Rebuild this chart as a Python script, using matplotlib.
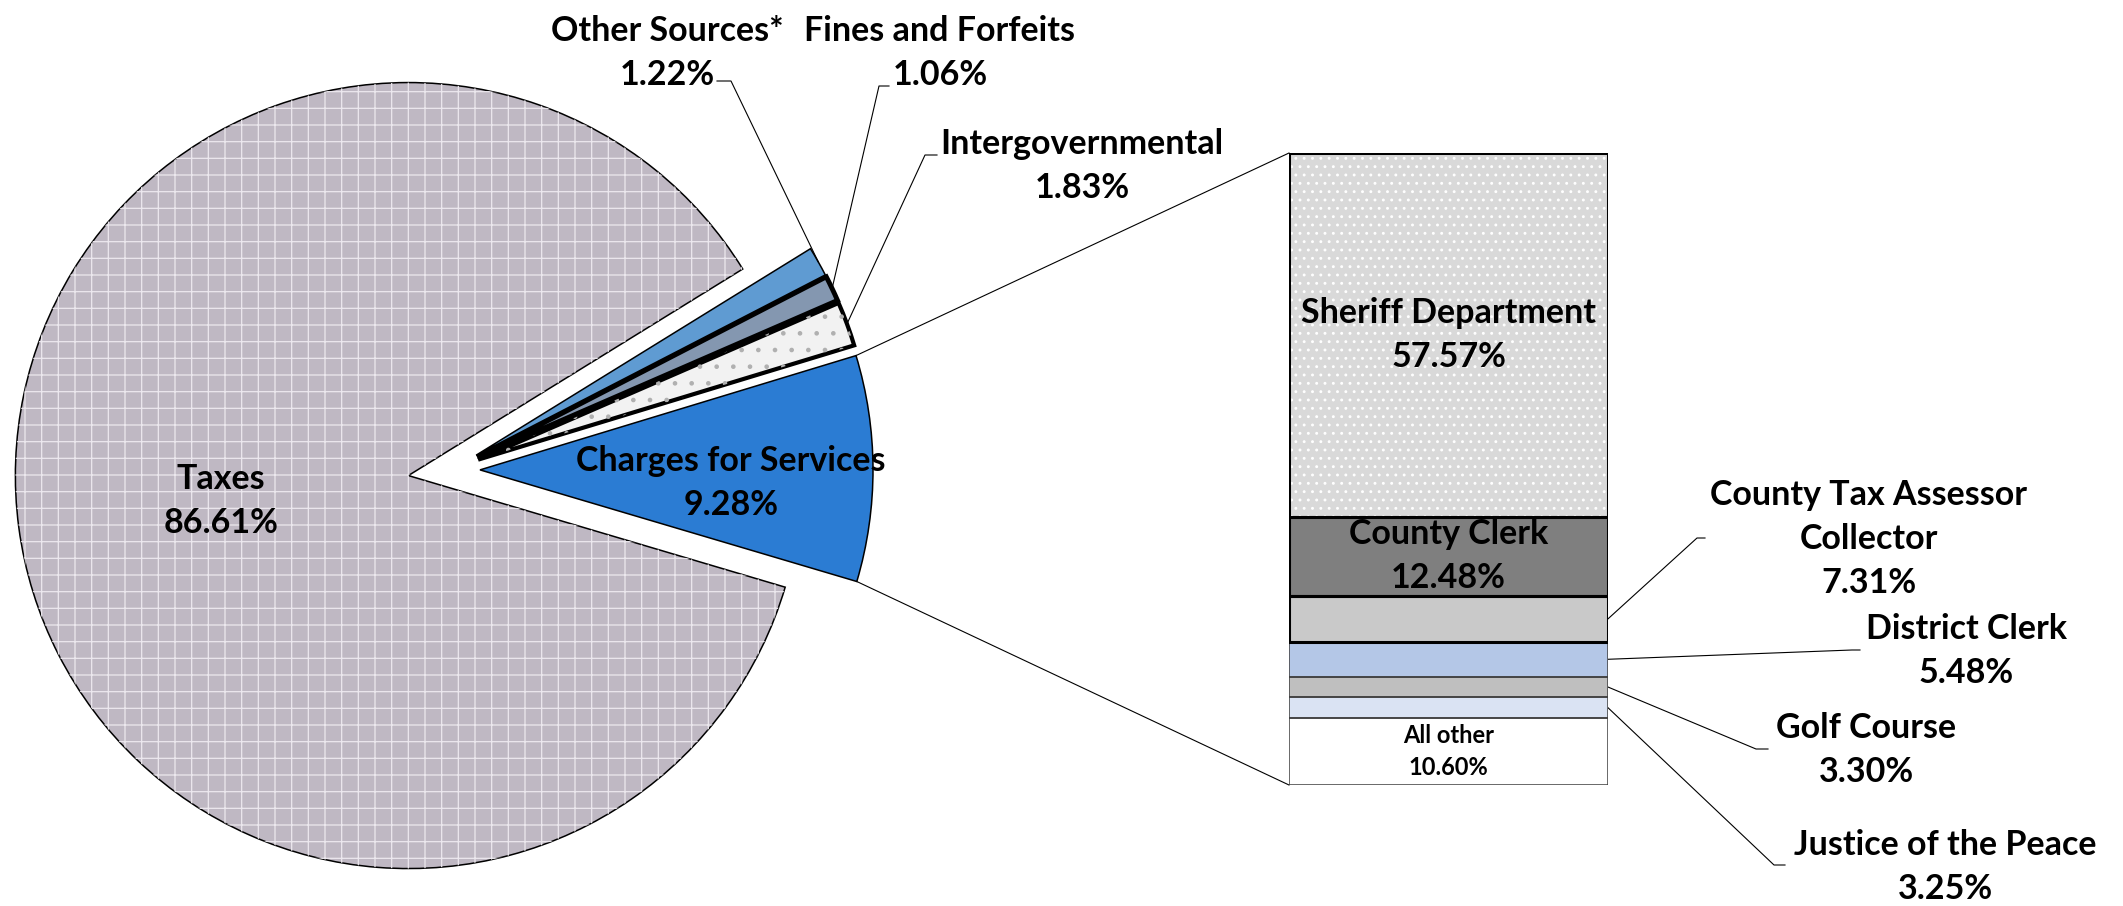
import numpy as np
import matplotlib
matplotlib.use("Agg")
import matplotlib.pyplot as plt
from matplotlib.patches import Wedge

plt.rcParams['font.family'] = ['Lato', 'DejaVu Sans']
plt.rcParams['hatch.linewidth'] = 0.9

# pie slices, counter-clockwise starting at the lower edge of "Charges for Services"
pie_names = ["Charges for Services", "Intergovernmental", "Fines and Forfeits", "Other Sources*", "Taxes"]
pie_values = [9.28, 1.83, 1.06, 1.22, 86.61]
pie_colors = ["#2B7CD3", "#F2F2F2", "#8497B0", "#5F9BD2", "#BFB8C3"]

# breakdown of "Charges for Services", top to bottom
bar_names = ["Sheriff Department", "County Clerk", "County Tax Assessor\nCollector",
             "District Clerk", "Golf Course", "Justice of the Peace", "All other"]
bar_values = [57.57, 12.48, 7.31, 5.48, 3.30, 3.25, 10.60]
bar_colors = ["#D9D9D9", "#7F7F7F", "#C9C9C9", "#B4C7E7", "#BFBFBF", "#DAE3F3", "#FFFFFF"]

W, H = 2123, 906
FS = 24.5

fig = plt.figure(figsize=(W / 100, H / 100), dpi=100)
ax = fig.add_axes([0, 0, 1, 1])

R = 393
explode = [30, 30, 30, 30, 42]
wedges, _ = ax.pie(pie_values, explode=explode, colors=pie_colors, radius=R,
                   center=(450, 436), startangle=-16.5, counterclock=True,
                   wedgeprops=dict(edgecolor="black", linewidth=1.1))
ax.set_xlim(0, W)
ax.set_ylim(0, H)
ax.axis("off")

wedges[1].set_linewidth(3.0)
wedges[2].set_linewidth(3.5)


def hatch_over(w, color, pattern):
    ax.add_patch(Wedge(w.center, w.r, w.theta1, w.theta2, facecolor="none",
                       edgecolor=color, hatch=pattern, linewidth=0))


hatch_over(wedges[4], "#ECE8EE", "+")
hatch_over(wedges[1], "#B0B0B0", ".")


def arc_mid(w):
    t = np.deg2rad((w.theta1 + w.theta2) / 2)
    return w.center[0] + w.r * np.cos(t), w.center[1] + w.r * np.sin(t)


def arc_at(w, theta):
    t = np.deg2rad(theta)
    return w.center[0] + w.r * np.cos(t), w.center[1] + w.r * np.sin(t)


txt = dict(ha="center", va="center", fontsize=FS, fontweight="bold",
           linespacing=1.45, multialignment="center")

ax.text(221, 405, f"{pie_names[4]}\n{pie_values[4]:.2f}%", **txt)
ax.text(731, 423, f"{pie_names[0]}\n{pie_values[0]:.2f}%", **txt)
ax.text(667, 853, f"{pie_names[3]}\n{pie_values[3]:.2f}%", **txt)
ax.text(940, 853, f"{pie_names[2]}\n{pie_values[2]:.2f}%", **txt)
ax.text(1082, 740, f"{pie_names[1]}\n{pie_values[1]:.2f}%", **txt)

# leader lines for the small slices
for pts, w in [([(717, 825), (731, 825)], wedges[3]),
               ([(889, 820), (879, 820)], wedges[2]),
               ([(937, 751), (925, 751)], wedges[1])]:
    xs, ys = zip(*(pts + [arc_mid(w)]))
    ax.plot(xs, ys, color="black", lw=0.8)

# stacked bar of the charges breakdown
bx = fig.add_axes([1289 / W, 121 / H, 319 / W, 632 / H])
total = sum(bar_values)
bottoms = 100 - np.cumsum(bar_values)
bx.bar(0, bar_values, bottom=bottoms, width=1, color=bar_colors, linewidth=0)
bx.bar(0, bar_values[0], bottom=bottoms[0], width=1, color="none",
       edgecolor="white", hatch="..", linewidth=0)
thin = bx.bar(0, bar_values[3:], bottom=bottoms[3:], width=1, color="none",
              edgecolor="#404040", linewidth=1.1)
thick = bx.bar(0, bar_values[:3], bottom=bottoms[:3], width=1, color="none",
               edgecolor="black", linewidth=2.2)
bx.set_xlim(-0.5, 0.5)
bx.set_ylim(100 - total, 100)
bx.axis("off")

mids = bottoms + np.array(bar_values) / 2
for i in (0, 1):
    bx.text(0, mids[i], f"{bar_names[i]}\n{bar_values[i]:.2f}%", **txt)
bx.text(0, mids[6], f"{bar_names[6]}\n{bar_values[6]:.2f}%",
        **{**txt, "fontsize": 17})


def to_main(x, y):
    return ax.transData.inverted().transform(bx.transData.transform((x, y)))


# connector lines from the charges slice to the bar
wc = wedges[0]
for theta, yb in [(wc.theta2, 100), (wc.theta1, 100 - total)]:
    p0 = arc_at(wc, theta)
    p1 = to_main(-0.5, yb)
    ax.plot([p0[0], p1[0]], [p0[1], p1[1]], color="black", lw=0.8)

# labels to the right of the bar
right_labels = [(2, (1869, 367), [(1697, 368), (1705, 368)]),
                (3, (1966, 255), [(1852, 256), (1860, 256)]),
                (4, (1866, 156), [(1756, 157), (1768, 157)]),
                (5, (1945, 39), [(1774, 41), (1785, 41)])]
for i, pos, pts in right_labels:
    ax.text(pos[0], pos[1], f"{bar_names[i]}\n{bar_values[i]:.2f}%", **txt)
    start = to_main(0.5, mids[i])
    xs, ys = zip(*([tuple(start)] + pts))
    ax.plot(xs, ys, color="black", lw=0.8)

fig.savefig("out.png", dpi=100)
